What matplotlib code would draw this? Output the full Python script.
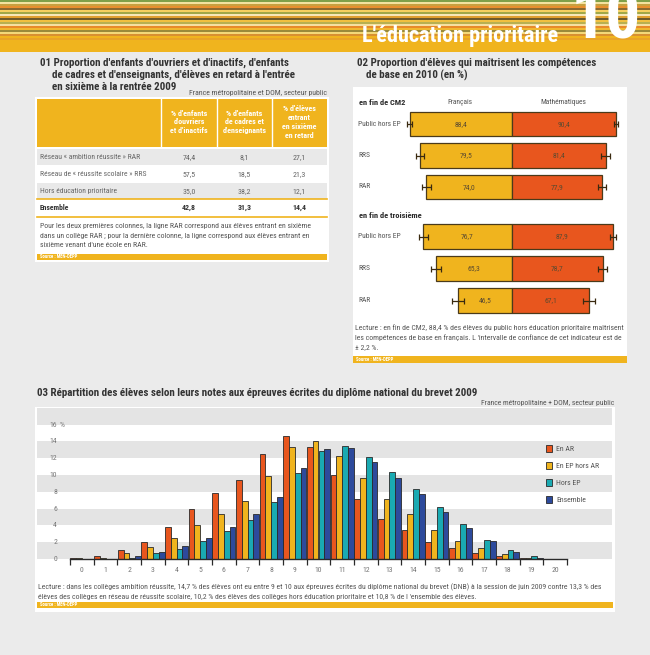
import matplotlib
matplotlib.use("Agg")
import matplotlib.pyplot as plt
from matplotlib import font_manager as fm
from matplotlib.patches import Rectangle

# pick a condensed sans face if one is installed
prefs = ['liberationsansnarrow', 'robotocondensed', 'dejavusanscondensed',
         'notosans-condensed', 'opensans-condensed', 'opensans_condensed']
found = None
for p in prefs:
    for f in fm.fontManager.ttflist:
        fn = f.fname.lower().replace(' ', '')
        if p in fn and f.weight in (400, 'normal', 'regular') and f.style == 'normal':
            found = f
            break
    if found:
        break
if found:
    plt.rcParams['font.family'] = [found.name, 'DejaVu Sans']
    plt.rcParams['font.stretch'] = found.stretch
    FS = 1.0
else:
    plt.rcParams['font.family'] = ['Liberation Sans', 'DejaVu Sans']
    FS = 0.82

# ---- data: table 01
rows01 = ["Réseau « ambition réussite » RAR", "Réseau de « réussite scolaire » RRS",
          "Hors éducation prioritaire", "Ensemble"]
ouvriers = [74.4, 57.5, 35.0, 42.8]
cadres = [8.1, 18.5, 38.2, 31.3]
retard = [27.1, 21.3, 12.1, 14.4]
heads01 = [["% d'enfants", "d'ouvriers", "et d'inactifs"],
           ["% d'enfants", "de cadres et", "d'enseignants"],
           ["% d'élèves", "entrant", "en sixième", "en retard"]]

# ---- data: chart 02
secteurs = ["Public hors EP", "RRS", "RAR"]
francais_cm2 = [88.4, 79.5, 74.0]
maths_cm2 = [90.4, 81.4, 77.9]
err_fr_cm2 = [2.2, 3.6, 3.9]
err_ma_cm2 = [2.0, 3.7, 3.5]
francais_3e = [76.7, 65.3, 46.5]
maths_3e = [87.9, 78.7, 67.1]
err_fr_3e = [3.9, 4.3, 5.5]
err_ma_3e = [2.4, 4.0, 5.2]

# ---- data: chart 03
notes = list(range(21))
en_ar = [0.15, 0.3, 1.1, 2.05, 3.8, 5.9, 7.9, 9.4, 12.5, 14.7, 13.3, 10.0, 7.1, 4.8, 3.45,
         2.0, 1.3, 0.7, 0.3, 0.1, 0.0]
en_ep_hors_ar = [0.1, 0.1, 0.7, 1.4, 2.5, 4.05, 5.4, 6.9, 9.9, 13.3, 14.1, 12.3, 9.7, 7.2, 5.3,
                 3.5, 2.2, 1.35, 0.55, 0.1, 0.0]
hors_ep = [0.05, 0.05, 0.15, 0.7, 1.2, 2.15, 3.3, 4.6, 6.8, 10.2, 12.9, 13.5, 12.1, 10.4, 8.3,
           6.2, 4.2, 2.3, 1.07, 0.3, 0.02]
ensemble = [0.05, 0.05, 0.3, 0.8, 1.55, 2.55, 3.8, 5.3, 7.4, 10.8, 13.1, 13.2, 11.6, 9.7, 7.7,
            5.6, 3.7, 2.2, 0.83, 0.15, 0.01]
series03 = ["En AR", "En EP hors AR", "Hors EP", "Ensemble"]

GOLD = '#F0B41E'
ORANGE = '#E8561E'
TEAL = '#1AAAB2'
BLUE = '#2D4A9C'
PAGE = '#EBEBEB'
BAND = '#E4E4E4'
TXT = '#555555'
DARK = '#2a2a2a'
TITLE = 7.9
NOTE = 5.6

W, H = 650, 655
fig = plt.figure(figsize=(6.5, 6.55), dpi=100)
fig.patch.set_facecolor(PAGE)

pg = fig.add_axes([0, 0, 1, 1])
pg.set_xlim(0, W)
pg.set_ylim(H, 0)
pg.axis('off')
pg.set_zorder(0)


def px_axes(x0, y0, x1, y1):
    return fig.add_axes([x0 / W, 1 - y1 / H, (x1 - x0) / W, (y1 - y0) / H])


def fmt(v):
    return f"{v:.1f}".replace('.', ',')


def box(x0, y0, x1, y1, c, z=1):
    pg.add_patch(Rectangle((x0, y0), x1 - x0, y1 - y0, color=c, lw=0, zorder=z))


def txt(x, y, s, size, **kw):
    kw.setdefault('va', 'center')
    kw.setdefault('zorder', 4)
    return pg.text(x, y, s, fontsize=size * FS, **kw)


# header stripes
stripes = ['#7FA04A', '#F3E3A0', '#C8A040', '#E89030', '#8B6A30', '#F5D060', '#A0A848',
           '#F7E8B8', '#E0A030', '#6E5A2A', '#F0C040', '#B8B050', '#F5E0A0', '#E88A2A',
           '#F0B830', '#9A8A3A', '#F3D878', '#D89030', '#F0B41E', '#E8A428']
for i, c in enumerate(stripes):
    box(0, i * 2, W, i * 2 + 2, c)
box(0, 40, W, 52, GOLD)
txt(558, 36, "L'éducation prioritaire", 16, color='white', fontweight='bold', ha='right')
txt(606, 20, "10", 50, color='white', fontweight='bold', ha='center')

# ---------------- panel 01
t1 = ["01 Proportion d'enfants d'ouvriers et d'inactifs, d'enfants",
      "de cadres et d'enseignants, d'élèves en retard à l'entrée",
      "en sixième à la rentrée 2009"]
for k, line in enumerate(t1):
    txt(40 if k == 0 else 52, 63 + 12 * k, line, TITLE, fontweight='bold', color='#333333')
txt(327, 93, "France métropolitaine et DOM, secteur public", 5.6, color=TXT, ha='right')
box(35, 97, 329, 262, 'white')
box(37, 99, 327, 147, GOLD, 2)
for xs in [161, 217, 272]:
    pg.plot([xs, xs], [99, 147], color='white', lw=1, zorder=3)
col_x = [189, 244.5, 299.5]
for cx, lines in zip(col_x, heads01):
    y0 = 122 - 4.4 * (len(lines) - 1)
    for k, line in enumerate(lines):
        txt(cx, y0 + 8.8 * k, line, 5.8, fontweight='bold', color='white', ha='center')
row_y = [157, 174.5, 190.7, 207.5]
row_bg = ['#E9E9E9', 'white', '#E9E9E9', 'white']
for k, (lab, a, b, c) in enumerate(zip(rows01, ouvriers, cadres, retard)):
    box(37, row_y[k] - 7.8, 327, row_y[k] + 7.8, row_bg[k], 2)
    bold = k == 3
    col = '#333333' if bold else '#666666'
    w = 'bold' if bold else 'normal'
    txt(40, row_y[k], lab, 5.5, color=col, fontweight=w)
    for cx, v in zip(col_x, [a, b, c]):
        txt(cx, row_y[k], fmt(v), 5.7, color=col, fontweight=w, ha='center')
pg.plot([37, 327], [199.3, 199.3], color=GOLD, lw=1.2, zorder=4)
pg.plot([37, 327], [216.5, 216.5], color=GOLD, lw=1.2, zorder=4)
note01 = ["Pour les deux premières colonnes, la ligne RAR correspond aux élèves entrant en sixième",
          "dans un collège RAR ; pour la dernière colonne, la ligne correspond aux élèves entrant en",
          "sixième venant d'une école en RAR."]
for k, line in enumerate(note01):
    txt(40, 226 + 9.7 * k, line, NOTE, color=TXT)
box(37, 254, 327, 260, GOLD, 2)
txt(40, 257, "Source : MEN-DEPP", 3.4, color='white', fontweight='bold')

# ---------------- panel 02
txt(357, 63, "02 Proportion d'élèves qui maîtrisent les compétences", TITLE,
    fontweight='bold', color='#333333')
txt(366, 75, "de base en 2010 (en %)", TITLE, fontweight='bold', color='#333333')
box(353, 87, 627, 363, 'white')
box(353, 356, 627, 363, GOLD, 2)
txt(356, 359.5, "Source : MEN-DEPP", 3.4, color='white', fontweight='bold')
txt(460, 103, "Français", 5.4, color=TXT, ha='center')
txt(563, 103, "Mathématiques", 5.4, color=TXT, ha='center')

ax2 = px_axes(355, 87, 625, 363)
ax2.set_zorder(2)
ax2.patch.set_alpha(0)
center = 511.7
scale = 1.155
ax2.set_xlim(-(center - 355) / scale, (625 - center) / scale)
ax2.set_ylim(363, 87)
ax2.axis('off')

blocks = [("en fin de CM2", 102.7, 124, 31.5, francais_cm2, maths_cm2, err_fr_cm2, err_ma_cm2),
          ("en fin de troisième", 215.7, 236.5, 32, francais_3e, maths_3e, err_fr_3e, err_ma_3e)]
for title, ty, y0, step, fr, ma, efr, ema in blocks:
    txt(359, ty, title, 6.0, fontweight='bold', color=DARK)
    ys = [y0 + step * k for k in range(3)]
    ax2.barh(ys, [-v for v in fr], height=24.5, color=GOLD, edgecolor='#4a3a1a', lw=0.9)
    ax2.barh(ys, ma, height=24.5, color=ORANGE, edgecolor='#4a3a1a', lw=0.9)
    ax2.errorbar([-v for v in fr], ys, xerr=efr, fmt='none', ecolor='#3a2a10', elinewidth=0.9,
                 capsize=2.2, capthick=0.9)
    ax2.errorbar(ma, ys, xerr=ema, fmt='none', ecolor='#3a2a10', elinewidth=0.9,
                 capsize=2.2, capthick=0.9)
    for y, a, b, lab in zip(ys, fr, ma, secteurs):
        ax2.text(-a / 2, y, fmt(a), fontsize=5.5 * FS, color='#5a4a30', ha='center', va='center')
        ax2.text(b / 2, y, fmt(b), fontsize=5.5 * FS, color='#5a4a30', ha='center', va='center')
        txt(358, y, lab, 5.4, color=TXT)

note02 = ["Lecture : en fin de CM2, 88,4 % des élèves du public hors éducation prioritaire maîtrisent",
          "les compétences de base en français. L 'intervalle de confiance de cet indicateur est de",
          "± 2,2 %."]
for k, line in enumerate(note02):
    txt(355, 328 + 9.5 * k, line, NOTE, color=TXT)

# ---------------- panel 03
txt(37, 393, "03 Répartition des élèves selon leurs notes aux épreuves écrites du diplôme national du brevet 2009",
    TITLE, fontweight='bold', color='#333333')
txt(614, 402.5, "France métropolitaine + DOM, secteur public", 5.5, color=TXT, ha='right')
box(35, 407, 615, 612, 'white')
box(37, 602, 613, 608, GOLD, 2)
txt(40, 605, "Source : MEN-DEPP", 3.4, color='white', fontweight='bold')
note03 = ["Lecture : dans les collèges ambition réussite, 14,7 % des élèves ont eu entre 9 et 10 aux épreuves écrites du diplôme national du brevet (DNB) à la session de juin 2009 contre 13,3 % des",
          "élèves des collèges en réseau de réussite scolaire, 10,2 % des élèves des collèges hors éducation prioritaire et 10,8 % de l 'ensemble des élèves."]
for k, line in enumerate(note03):
    txt(38, 587 + 10 * k, line, NOTE, color=TXT)

ax3 = px_axes(37, 407.8, 612, 559)
ax3.set_zorder(2)
x0p, stp = 82, 23.65
ax3.set_xlim((37 - x0p) / stp, (612 - x0p) / stp)
ax3.set_ylim(0, 18)
for s in ax3.spines.values():
    s.set_visible(False)
for k in range(0, 18, 4):
    ax3.axhspan(k, k + 2, color=BAND, lw=0, zorder=0)
cols3 = [ORANGE, GOLD, TEAL, BLUE]
data3 = [en_ar, en_ep_hors_ar, hors_ep, ensemble]
bw = 0.245
for j, (vals, c, lab) in enumerate(zip(data3, cols3, series03)):
    ax3.bar([n + (j - 1.5) * bw for n in notes], vals, width=bw, color=c, edgecolor='#2a2a2a',
            lw=0.6, label=lab, zorder=2, clip_on=False)
ax3.plot([-0.5, 20.5], [0, 0], color='#2a2a2a', lw=1, zorder=3, clip_on=False)
ax3.set_xticks(notes)
ax3.set_xticklabels([str(n) for n in notes], fontsize=5.6 * FS, color='#777777')
ax3.set_xticks([n - 0.5 for n in notes] + [20.5], minor=True)
ax3.tick_params(axis='x', which='major', length=0, pad=6)
ax3.tick_params(axis='x', which='minor', length=4, width=0.9, color='#2a2a2a', direction='out')
ax3.set_yticks([])
for v in range(0, 17, 2):
    ax3.text((57 - x0p) / stp, v, str(v), fontsize=5.6 * FS, color='#777777', ha='right',
             va='center')
ax3.text((59.5 - x0p) / stp, 16, "%", fontsize=5.6 * FS, color='#777777', ha='left', va='center')
ax3.legend(loc='upper left', bbox_to_anchor=((543 - 37) / 575, (559 - 442) / 151.2),
           frameon=False, fontsize=5.6 * FS, handlelength=0.8, handleheight=0.9,
           labelspacing=1.3, handletextpad=0.5, labelcolor=TXT, borderaxespad=0)

fig.savefig("out.png", dpi=100, facecolor=PAGE)
